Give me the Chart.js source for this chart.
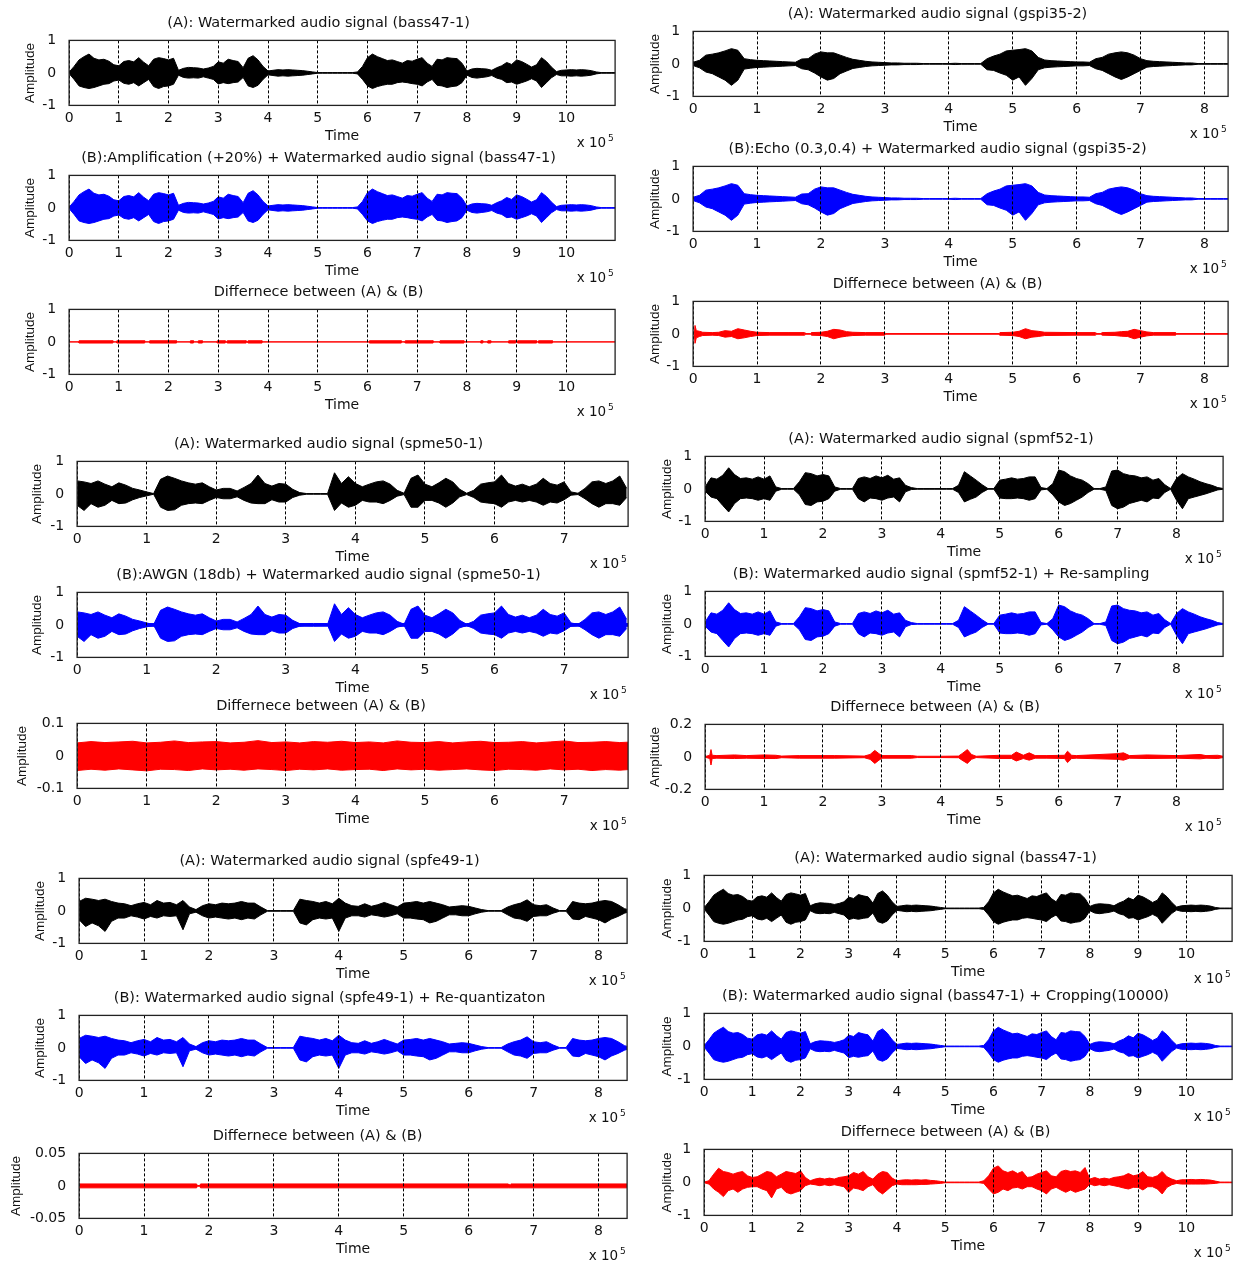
<!DOCTYPE html>
<html>
<head>
<meta charset="utf-8">
<script src="https://cdn.jsdelivr.net/npm/chart.js@4"></script>
<style>
  html, body { margin: 0; padding: 0; background: #fff; }
  body { width: 1238px; height: 1263px; position: relative; overflow: hidden; }
  .panel { position: absolute; }
</style>
</head>
<body>
<script>
// envelopes: upper / lower peak every 0.1 x 10^5 samples
const STEP = 0.1;

const bassHi = [0.02,0.20,0.40,0.50,0.58,0.45,0.40,0.42,0.36,0.25,
  0.22,0.35,0.38,0.34,0.47,0.33,0.22,0.42,0.47,0.44,
  0.40,0.45,0.08,0.14,0.17,0.16,0.15,0.12,0.15,0.20,
  0.34,0.30,0.42,0.38,0.35,0.16,0.45,0.53,0.40,0.20,
  0.06,0.08,0.10,0.09,0.10,0.09,0.08,0.07,0.05,0.03,
  0.01,0.01,0.01,0.01,0.01,0.01,0.01,0.01,0.03,0.20,
  0.47,0.58,0.50,0.44,0.38,0.40,0.35,0.30,0.38,0.36,
  0.42,0.47,0.30,0.20,0.42,0.40,0.47,0.45,0.44,0.30,
  0.06,0.12,0.14,0.13,0.12,0.08,0.16,0.22,0.32,0.26,
  0.40,0.35,0.27,0.18,0.25,0.47,0.35,0.18,0.04,0.08,
  0.09,0.10,0.09,0.10,0.09,0.07,0.03,0.01,0.01,0.01,0.01];
const bassLo = [-0.02,-0.20,-0.40,-0.45,-0.48,-0.45,-0.40,-0.35,-0.33,-0.25,
  -0.22,-0.32,-0.35,-0.30,-0.40,-0.30,-0.20,-0.42,-0.48,-0.42,
  -0.40,-0.35,-0.07,-0.14,-0.16,-0.15,-0.16,-0.12,-0.16,-0.20,
  -0.34,-0.30,-0.33,-0.30,-0.28,-0.14,-0.40,-0.45,-0.38,-0.20,
  -0.06,-0.08,-0.10,-0.09,-0.10,-0.09,-0.08,-0.07,-0.05,-0.03,
  -0.01,-0.01,-0.01,-0.01,-0.01,-0.01,-0.01,-0.01,-0.03,-0.20,
  -0.40,-0.48,-0.42,-0.38,-0.35,-0.35,-0.30,-0.28,-0.30,-0.33,
  -0.35,-0.40,-0.28,-0.20,-0.38,-0.40,-0.45,-0.42,-0.40,-0.30,
  -0.07,-0.14,-0.16,-0.14,-0.12,-0.08,-0.16,-0.20,-0.30,-0.28,
  -0.35,-0.30,-0.25,-0.18,-0.25,-0.45,-0.30,-0.15,-0.05,-0.09,
  -0.09,-0.10,-0.09,-0.10,-0.09,-0.07,-0.03,-0.01,-0.01,-0.01,-0.01];

const gspiHi = [0.05,0.11,0.27,0.30,0.34,0.40,0.47,0.42,0.16,0.13,
  0.11,0.10,0.09,0.08,0.07,0.06,0.05,0.15,0.16,0.30,
  0.37,0.34,0.34,0.27,0.20,0.14,0.11,0.08,0.06,0.05,
  0.04,0.03,0.03,0.02,0.02,0.02,0.01,0.01,0.01,0.01,
  0.01,0.02,0.01,0.01,0.01,0.01,0.16,0.24,0.30,0.40,
  0.42,0.44,0.47,0.40,0.20,0.12,0.10,0.09,0.08,0.07,
  0.06,0.06,0.05,0.16,0.20,0.30,0.34,0.37,0.34,0.27,
  0.16,0.10,0.08,0.07,0.06,0.05,0.04,0.03,0.03,0.01,
  0.01,0.01,0.01,0.01,0.01];
const gspiLo = [-0.05,-0.12,-0.25,-0.30,-0.40,-0.50,-0.66,-0.50,-0.16,-0.13,
  -0.11,-0.10,-0.09,-0.08,-0.07,-0.06,-0.05,-0.15,-0.18,-0.28,
  -0.40,-0.50,-0.45,-0.30,-0.22,-0.14,-0.11,-0.08,-0.06,-0.05,
  -0.04,-0.03,-0.03,-0.02,-0.02,-0.02,-0.01,-0.01,-0.01,-0.01,
  -0.01,-0.02,-0.01,-0.01,-0.01,-0.01,-0.18,-0.20,-0.28,-0.35,
  -0.50,-0.40,-0.66,-0.45,-0.18,-0.12,-0.10,-0.09,-0.08,-0.07,
  -0.06,-0.06,-0.05,-0.15,-0.20,-0.30,-0.40,-0.48,-0.40,-0.30,
  -0.20,-0.10,-0.08,-0.07,-0.06,-0.05,-0.04,-0.03,-0.03,-0.01,
  -0.01,-0.01,-0.01,-0.01,-0.01];

const spmeHi = [0.40,0.37,0.32,0.40,0.30,0.22,0.34,0.27,0.17,0.12,
  0.06,0.01,0.45,0.55,0.48,0.40,0.34,0.30,0.34,0.22,
  0.12,0.17,0.17,0.09,0.20,0.32,0.58,0.32,0.24,0.32,
  0.30,0.14,0.04,0.01,0.01,0.01,0.01,0.65,0.32,0.53,
  0.32,0.22,0.30,0.37,0.40,0.30,0.11,0.02,0.48,0.58,
  0.30,0.22,0.34,0.48,0.37,0.14,0.02,0.11,0.30,0.34,
  0.37,0.58,0.32,0.24,0.30,0.22,0.30,0.48,0.32,0.27,
  0.37,0.06,0.02,0.17,0.37,0.40,0.32,0.40,0.55,0.17];
const spmeLo = [-0.35,-0.51,-0.30,-0.41,-0.35,-0.20,-0.30,-0.28,-0.18,-0.11,
  -0.06,-0.01,-0.41,-0.51,-0.49,-0.35,-0.30,-0.28,-0.30,-0.20,
  -0.11,-0.15,-0.15,-0.09,-0.20,-0.28,-0.30,-0.30,-0.18,-0.25,
  -0.25,-0.11,-0.04,-0.01,-0.01,-0.01,-0.01,-0.51,-0.28,-0.41,
  -0.35,-0.20,-0.25,-0.25,-0.30,-0.20,-0.07,-0.02,-0.41,-0.41,
  -0.20,-0.20,-0.28,-0.41,-0.28,-0.09,-0.02,-0.11,-0.25,-0.28,
  -0.30,-0.41,-0.25,-0.20,-0.25,-0.20,-0.25,-0.35,-0.25,-0.28,
  -0.18,-0.04,-0.02,-0.15,-0.30,-0.41,-0.30,-0.30,-0.35,-0.11];

const spmfHi = [0.06,0.34,0.30,0.42,0.65,0.44,0.32,0.34,0.30,0.37,
  0.30,0.40,0.06,0.01,0.01,0.01,0.22,0.50,0.47,0.40,
  0.44,0.40,0.06,0.01,0.01,0.01,0.32,0.37,0.32,0.40,
  0.34,0.42,0.30,0.34,0.11,0.04,0.01,0.01,0.01,0.01,
  0.01,0.01,0.01,0.11,0.53,0.40,0.27,0.13,0.01,0.01,
  0.27,0.30,0.34,0.30,0.32,0.37,0.37,0.04,0.01,0.16,
  0.58,0.53,0.40,0.32,0.27,0.16,0.01,0.01,0.06,0.55,
  0.58,0.47,0.42,0.40,0.34,0.37,0.27,0.32,0.13,0.01,
  0.32,0.47,0.37,0.30,0.22,0.16,0.11,0.04,0.01];
const spmfLo = [-0.07,-0.25,-0.30,-0.51,-0.71,-0.45,-0.30,-0.28,-0.30,-0.35,
  -0.30,-0.35,-0.07,-0.01,-0.01,-0.01,-0.18,-0.48,-0.51,-0.40,
  -0.38,-0.30,-0.07,-0.01,-0.01,-0.01,-0.30,-0.40,-0.28,-0.30,
  -0.35,-0.28,-0.25,-0.40,-0.09,-0.02,-0.01,-0.01,-0.01,-0.01,
  -0.01,-0.01,-0.01,-0.11,-0.40,-0.32,-0.25,-0.11,-0.01,-0.01,
  -0.28,-0.30,-0.30,-0.28,-0.30,-0.35,-0.30,-0.03,-0.01,-0.18,
  -0.40,-0.51,-0.45,-0.35,-0.25,-0.11,-0.01,-0.01,-0.05,-0.51,
  -0.61,-0.56,-0.45,-0.40,-0.35,-0.40,-0.28,-0.30,-0.11,-0.01,
  -0.35,-0.61,-0.30,-0.25,-0.20,-0.15,-0.09,-0.03,-0.01];

const spfeHi = [0.29,0.39,0.36,0.32,0.36,0.29,0.24,0.22,0.16,0.22,
  0.26,0.19,0.32,0.24,0.26,0.19,0.32,0.12,0.04,0.16,
  0.22,0.19,0.24,0.22,0.24,0.29,0.24,0.24,0.12,0.01,
  0.01,0.01,0.01,0.01,0.36,0.32,0.29,0.24,0.29,0.22,
  0.39,0.24,0.16,0.14,0.22,0.14,0.19,0.26,0.19,0.12,
  0.24,0.26,0.29,0.24,0.29,0.24,0.19,0.12,0.14,0.16,
  0.14,0.09,0.04,0.01,0.01,0.01,0.12,0.19,0.24,0.34,
  0.19,0.16,0.19,0.09,0.01,0.01,0.29,0.24,0.22,0.24,
  0.29,0.32,0.29,0.19,0.07,0.01];
const spfeLo = [-0.27,-0.48,-0.37,-0.46,-0.63,-0.32,-0.22,-0.22,-0.15,-0.19,
  -0.25,-0.17,-0.22,-0.15,-0.17,-0.15,-0.58,-0.09,-0.04,-0.15,
  -0.22,-0.19,-0.22,-0.25,-0.22,-0.27,-0.22,-0.25,-0.12,-0.01,
  -0.01,-0.01,-0.01,-0.01,-0.37,-0.43,-0.27,-0.22,-0.25,-0.22,
  -0.63,-0.22,-0.15,-0.15,-0.19,-0.12,-0.15,-0.19,-0.15,-0.09,
  -0.22,-0.22,-0.25,-0.27,-0.37,-0.32,-0.22,-0.12,-0.12,-0.15,
  -0.15,-0.09,-0.04,-0.01,-0.01,-0.01,-0.12,-0.22,-0.25,-0.32,
  -0.17,-0.15,-0.15,-0.07,-0.01,-0.01,-0.25,-0.27,-0.17,-0.22,
  -0.27,-0.37,-0.25,-0.17,-0.07,-0.01];

const cropHi = [0.01,0.05,0.25,0.43,0.33,0.30,0.25,0.30,0.33,0.20,
  0.15,0.17,0.25,0.33,0.30,0.17,0.25,0.33,0.30,0.27,
  0.35,0.15,0.05,0.10,0.13,0.10,0.13,0.10,0.15,0.17,
  0.20,0.30,0.25,0.33,0.17,0.10,0.25,0.33,0.30,0.13,
  0.05,0.07,0.08,0.07,0.08,0.07,0.08,0.06,0.05,0.03,
  0.01,0.01,0.01,0.01,0.01,0.01,0.01,0.01,0.05,0.20,
  0.43,0.50,0.35,0.30,0.35,0.27,0.33,0.15,0.17,0.25,
  0.30,0.35,0.20,0.17,0.33,0.37,0.33,0.35,0.30,0.45,
  0.10,0.15,0.10,0.13,0.10,0.15,0.17,0.20,0.27,0.20,
  0.23,0.33,0.17,0.15,0.20,0.33,0.17,0.10,0.05,0.08,
  0.08,0.09,0.08,0.09,0.08,0.07,0.04,0.01,0.01,0.01,0.01];
const cropLo = [-0.01,-0.05,-0.20,-0.30,-0.43,-0.25,-0.20,-0.30,-0.20,-0.15,
  -0.13,-0.13,-0.20,-0.25,-0.47,-0.20,-0.15,-0.30,-0.35,-0.30,
  -0.25,-0.10,-0.05,-0.07,-0.10,-0.07,-0.10,-0.07,-0.10,-0.13,
  -0.30,-0.17,-0.20,-0.25,-0.13,-0.07,-0.25,-0.35,-0.23,-0.10,
  -0.05,-0.07,-0.07,-0.07,-0.07,-0.06,-0.06,-0.05,-0.04,-0.03,
  -0.01,-0.01,-0.01,-0.01,-0.01,-0.01,-0.01,-0.01,-0.03,-0.20,
  -0.35,-0.30,-0.20,-0.25,-0.17,-0.15,-0.20,-0.13,-0.13,-0.20,
  -0.25,-0.35,-0.20,-0.15,-0.23,-0.30,-0.23,-0.30,-0.25,-0.20,
  -0.05,-0.10,-0.07,-0.10,-0.07,-0.10,-0.13,-0.17,-0.20,-0.15,
  -0.15,-0.23,-0.13,-0.13,-0.20,-0.35,-0.15,-0.07,-0.03,-0.05,
  -0.05,-0.05,-0.05,-0.05,-0.05,-0.04,-0.03,-0.01,-0.01,-0.01,-0.01];

// AWGN residue, read every 0.2 x 10^5
const NOISE_STEP = 0.2;
const awgnHi = [0.040,0.044,0.041,0.043,0.045,0.040,0.042,0.046,0.041,0.043,
  0.044,0.040,0.042,0.047,0.041,0.043,0.040,0.044,0.042,0.045,
  0.041,0.043,0.040,0.046,0.042,0.041,0.044,0.040,0.043,0.045,
  0.041,0.042,0.044,0.040,0.043,0.046,0.041,0.042,0.044,0.041,0.043];
const awgnLo = [-0.045,-0.041,-0.044,-0.040,-0.043,-0.046,-0.041,-0.042,-0.045,-0.040,
  -0.043,-0.041,-0.044,-0.040,-0.042,-0.045,-0.041,-0.043,-0.040,-0.044,
  -0.042,-0.041,-0.045,-0.040,-0.043,-0.041,-0.044,-0.042,-0.040,-0.043,
  -0.045,-0.041,-0.042,-0.044,-0.040,-0.043,-0.041,-0.045,-0.042,-0.044,-0.041];

// echo residue (irregular readings)
const echoT = [0,0.02,0.03,0.05,0.1,0.15,0.3,0.4,0.5,0.6,
  0.7,0.8,0.9,1.0,1.2,1.5,1.74,1.75,1.84,1.85,
  2.0,2.1,2.2,2.3,2.4,2.5,2.7,3.0,3.01,4.79,
  4.8,5.0,5.1,5.2,5.3,5.4,5.5,6.0,6.29,6.3,
  6.38,6.4,6.6,6.7,6.8,6.9,7.0,7.1,7.2,7.55,7.56,8.37];
const echoHi = [0.01,0.01,0.26,0.10,0.08,0.05,0.04,0.05,0.10,0.08,
  0.16,0.12,0.08,0.05,0.04,0.04,0.04,0.01,0.01,0.04,
  0.05,0.08,0.14,0.12,0.07,0.05,0.04,0.04,0.01,0.01,
  0.04,0.05,0.08,0.16,0.10,0.08,0.05,0.04,0.04,0.01,
  0.01,0.04,0.05,0.07,0.08,0.14,0.10,0.06,0.04,0.04,0.01,0.01];
const echoLo = [-0.01,-0.01,-0.29,-0.12,-0.08,-0.05,-0.04,-0.05,-0.10,-0.08,
  -0.15,-0.12,-0.08,-0.05,-0.04,-0.04,-0.04,-0.01,-0.01,-0.04,
  -0.05,-0.08,-0.15,-0.10,-0.07,-0.05,-0.04,-0.04,-0.01,-0.01,
  -0.04,-0.05,-0.08,-0.15,-0.10,-0.08,-0.05,-0.04,-0.04,-0.01,
  -0.01,-0.04,-0.05,-0.07,-0.08,-0.15,-0.10,-0.06,-0.04,-0.04,-0.01,-0.01];

// re-sampling residue
const resT = [0,0.08,0.1,0.12,0.2,0.5,0.7,1.0,1.2,1.3,
  1.6,2.2,2.7,2.8,2.88,2.95,3.0,3.5,3.6,4.0,
  4.3,4.36,4.45,4.52,4.6,5.0,5.2,5.28,5.4,5.5,
  5.6,5.8,6.1,6.15,6.22,6.3,7.0,7.1,7.2,7.5,
  8.0,8.4,8.5,8.7,8.79];
const resHi = [0.002,0.01,0.045,0.01,0.008,0.012,0.008,0.012,0.01,0.005,
  0.008,0.008,0.005,0.015,0.04,0.02,0.008,0.008,0.004,0.004,
  0.005,0.02,0.045,0.015,0.004,0.01,0.01,0.03,0.01,0.025,
  0.008,0.008,0.01,0.035,0.01,0.008,0.02,0.025,0.008,0.012,
  0.008,0.015,0.008,0.01,0.004];
const resLo = [-0.002,-0.01,-0.05,-0.01,-0.008,-0.01,-0.008,-0.01,-0.01,-0.005,
  -0.008,-0.008,-0.005,-0.015,-0.04,-0.02,-0.008,-0.008,-0.004,-0.004,
  -0.005,-0.02,-0.04,-0.015,-0.004,-0.01,-0.01,-0.025,-0.01,-0.02,
  -0.008,-0.008,-0.01,-0.035,-0.01,-0.008,-0.015,-0.02,-0.008,-0.01,
  -0.008,-0.012,-0.008,-0.01,-0.004];

// re-quantization residue
const rqT  = [0,1.81,1.82,1.86,1.87,6.61,6.62,6.64,6.65,8.44];
const rqHi = [0.003,0.003,0.0005,0.0005,0.003,0.003,0.0015,0.0015,0.003,0.003];
const rqLo = [-0.003,-0.003,-0.0005,-0.0005,-0.003,-0.003,-0.003,-0.003,-0.003,-0.003];

// amplification residue: stretches where it is visible, and its height
const ampOn = [[0.2,0.88],[0.96,1.52],[1.62,2.16],[2.44,2.5],[2.6,2.68],[2.98,3.14],
  [3.18,3.56],[3.6,3.88],[6.04,6.68],[6.76,7.32],[7.46,7.94],[8.28,8.32],
  [8.42,8.48],[8.84,8.98],[9.02,9.4],[9.44,9.72]];
const ampLevel = 0.035;
const ampEnd = 11;

// ---- series builders ----
function stepped(hi, lo, dt) {
  return {
    hi: hi.map((v, i) => ({ x: i * dt, y: v })),
    lo: lo.map((v, i) => ({ x: i * dt, y: v }))
  };
}
function timed(t, hi, lo) {
  return {
    hi: t.map((x, i) => ({ x: x, y: hi[i] })),
    lo: t.map((x, i) => ({ x: x, y: lo[i] }))
  };
}
function segments(on, level, end) {
  const hi = [{ x: 0, y: 0 }], lo = [{ x: 0, y: 0 }];
  on.forEach(([s, e]) => {
    hi.push({ x: s, y: 0 }, { x: s, y: level }, { x: e, y: level }, { x: e, y: 0 });
    lo.push({ x: s, y: 0 }, { x: s, y: -level }, { x: e, y: -level }, { x: e, y: 0 });
  });
  hi.push({ x: end, y: 0 });
  lo.push({ x: end, y: 0 });
  return { hi, lo };
}

const bass = stepped(bassHi, bassLo, STEP);
const gspi = stepped(gspiHi, gspiLo, STEP);
const spme = stepped(spmeHi, spmeLo, STEP);
const spmf = stepped(spmfHi, spmfLo, STEP);
const spfe = stepped(spfeHi, spfeLo, STEP);
const cropDiff = stepped(cropHi, cropLo, STEP);
const awgn = stepped(awgnHi, awgnLo, NOISE_STEP);
const echoDiff = timed(echoT, echoHi, echoLo);
const resDiff = timed(resT, resHi, resLo);
const rqDiff = timed(rqT, rqHi, rqLo);
const ampDiff = segments(ampOn, ampLevel, ampEnd);

const BLACK = "#000000", BLUE = "#0000ff", RED = "#ff0000";
const DIFF = "Differnece between (A) & (B)";

const panels = [
  { box: [69, 40, 615, 105], gap: 39, xMax: 10.98, yMax: 1, color: BLACK,
    title: "(A): Watermarked audio signal (bass47-1)", series: [bass] },
  { box: [69, 175, 615, 240], gap: 39, xMax: 10.98, yMax: 1, color: BLUE,
    title: "(B):Amplification (+20%) + Watermarked audio signal (bass47-1)", series: [bass] },
  { box: [69, 309, 615, 374], gap: 39, xMax: 10.98, yMax: 1, color: RED,
    title: DIFF, series: [ampDiff] },

  { box: [77, 461, 628, 526], gap: 40, xMax: 7.92, yMax: 1, color: BLACK,
    title: "(A): Watermarked audio signal (spme50-1)", series: [spme] },
  { box: [77, 592, 628, 657], gap: 40, xMax: 7.92, yMax: 1, color: BLUE,
    title: "(B):AWGN (18db) + Watermarked audio signal (spme50-1)", series: [spme, awgn] },
  { box: [77, 723, 628, 788], gap: 55, xMax: 7.92, yMax: 0.1, color: RED,
    title: DIFF, series: [awgn] },

  { box: [79, 878, 627, 943], gap: 39, xMax: 8.44, yMax: 1, color: BLACK,
    title: "(A): Watermarked audio signal (spfe49-1)", series: [spfe] },
  { box: [79, 1015, 627, 1080], gap: 39, xMax: 8.44, yMax: 1, color: BLUE,
    title: "(B): Watermarked audio signal (spfe49-1) + Re-quantizaton", series: [spfe] },
  { box: [79, 1153, 627, 1218], gap: 63, xMax: 8.44, yMax: 0.05, color: RED,
    title: DIFF, series: [rqDiff] },

  { box: [693, 31, 1228, 96], gap: 38, xMax: 8.37, yMax: 1, color: BLACK,
    title: "(A): Watermarked audio signal (gspi35-2)", series: [gspi] },
  { box: [693, 166, 1228, 231], gap: 38, xMax: 8.37, yMax: 1, color: BLUE,
    title: "(B):Echo (0.3,0.4) + Watermarked audio signal (gspi35-2)", series: [gspi] },
  { box: [693, 301, 1228, 366], gap: 38, xMax: 8.37, yMax: 1, color: RED,
    title: DIFF, series: [echoDiff] },

  { box: [705, 456, 1223, 521], gap: 38, xMax: 8.79, yMax: 1, color: BLACK,
    title: "(A): Watermarked audio signal (spmf52-1)", series: [spmf] },
  { box: [705, 591, 1223, 656], gap: 38, xMax: 8.79, yMax: 1, color: BLUE,
    title: "(B): Watermarked audio signal (spmf52-1) + Re-sampling", series: [spmf] },
  { box: [705, 724, 1223, 789], gap: 50, xMax: 8.79, yMax: 0.2, color: RED,
    title: DIFF, series: [resDiff] },

  { box: [704, 875, 1232, 941], gap: 37, xMax: 10.95, yMax: 1, color: BLACK,
    title: "(A): Watermarked audio signal (bass47-1)", series: [bass] },
  { box: [704, 1013, 1232, 1079], gap: 37, xMax: 10.95, yMax: 1, color: BLUE,
    title: "(B): Watermarked audio signal (bass47-1) + Cropping(10000)", series: [bass] },
  { box: [704, 1149, 1232, 1215], gap: 37, xMax: 10.95, yMax: 1, color: RED,
    title: DIFF, series: [cropDiff] }
];

// ---- layout constants ----
const TEXT = "#111111";
const FONT = "DejaVu Sans";
const TITLE_SIZE = 14.5, TITLE_PAD_TOP = 2, TITLE_PAD_BOTTOM = 8;
const TITLE_H = TITLE_SIZE * 1.2 + TITLE_PAD_TOP + TITLE_PAD_BOTTOM;
const XAXIS_H = 50;
const YTITLE_SIZE = 13.5;
const TICK_SIZE = 14;

// box frame plus the "x 10^5" exponent note
const matlabFrame = {
  id: "matlabFrame",
  afterDraw(chart) {
    const { ctx, chartArea: a } = chart;
    ctx.save();
    ctx.setLineDash([]);
    ctx.strokeStyle = "#222";
    ctx.lineWidth = 1.3;
    ctx.strokeRect(a.left, a.top, a.right - a.left, a.bottom - a.top);
    ctx.fillStyle = TEXT;
    ctx.textBaseline = "middle";
    ctx.textAlign = "right";
    ctx.font = `13.5px "${FONT}"`;
    ctx.fillText("x 10", a.right - 9, a.bottom + 38);
    ctx.textAlign = "left";
    ctx.font = `9px "${FONT}"`;
    ctx.fillText("5", a.right - 7, a.bottom + 33);
    ctx.restore();
  }
};

function makePanel(p) {
  const [l, t, r, b] = p.box;
  const yw = p.gap + YTITLE_SIZE * 1.2 / 2;

  const div = document.createElement("div");
  div.className = "panel";
  div.style.left = (l - yw) + "px";
  div.style.top = (t - TITLE_H) + "px";
  div.style.width = (r - l + 2 * yw) + "px";
  div.style.height = (b - t + TITLE_H + XAXIS_H) + "px";
  const canvas = document.createElement("canvas");
  div.appendChild(canvas);
  document.body.appendChild(div);

  const datasets = [];
  p.series.forEach(s => {
    datasets.push({ data: s.hi, borderColor: p.color, backgroundColor: p.color, fill: "+1" });
    datasets.push({ data: s.lo, borderColor: p.color, backgroundColor: p.color, fill: false });
  });

  new Chart(canvas, {
    type: "line",
    data: { datasets: datasets },
    options: {
      responsive: true,
      maintainAspectRatio: false,
      animation: false,
      parsing: false,
      layout: { padding: { left: 0, right: yw, top: 0, bottom: 0 } },
      elements: {
        point: { radius: 0 },
        line: { tension: 0, borderWidth: 1 }
      },
      plugins: {
        legend: { display: false },
        tooltip: { enabled: false },
        title: {
          display: true,
          text: p.title,
          color: TEXT,
          font: { family: FONT, size: TITLE_SIZE, weight: "normal" },
          padding: { top: TITLE_PAD_TOP, bottom: TITLE_PAD_BOTTOM }
        }
      },
      scales: {
        x: {
          type: "linear",
          min: 0,
          max: p.xMax,
          ticks: {
            stepSize: 1,
            includeBounds: false,
            autoSkip: false,
            maxRotation: 0,
            padding: 5,
            color: TEXT,
            font: { family: FONT, size: TICK_SIZE }
          },
          grid: { color: "#000", lineWidth: 1, drawTicks: false, z: 1 },
          border: { display: false, dash: [3, 2] },
          title: {
            display: true,
            text: "Time",
            color: TEXT,
            font: { family: FONT, size: 14 },
            padding: { top: 0, bottom: 11 }
          },
          afterFit(scale) { scale.height = XAXIS_H; }
        },
        y: {
          min: -p.yMax,
          max: p.yMax,
          ticks: {
            stepSize: p.yMax,
            padding: 5,
            color: TEXT,
            font: { family: FONT, size: TICK_SIZE }
          },
          grid: { display: false },
          border: { display: false },
          title: {
            display: true,
            text: "Amplitude",
            color: TEXT,
            font: { family: "Liberation Sans", size: YTITLE_SIZE },
            padding: { top: 0, bottom: 0 }
          },
          afterFit(scale) { scale.width = yw; }
        }
      }
    },
    plugins: [matlabFrame]
  });
}

panels.forEach(makePanel);
</script>
</body>
</html>
